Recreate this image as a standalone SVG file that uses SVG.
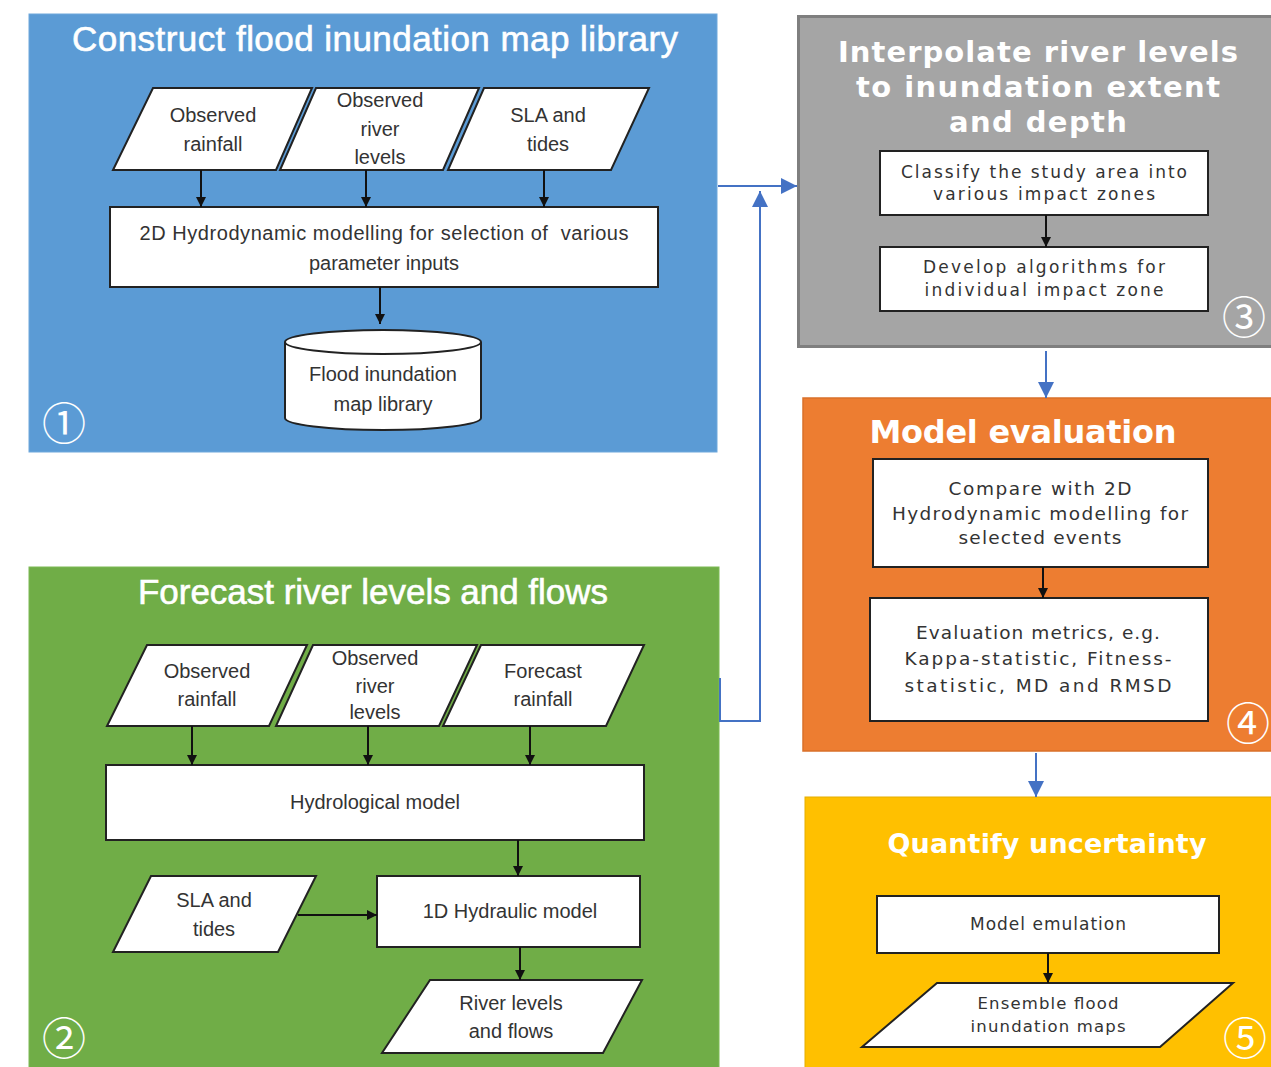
<svg xmlns="http://www.w3.org/2000/svg" width="1271" height="1067" viewBox="0 0 1271 1067">
<style>
.node{fill:#fff;stroke:#222;stroke-width:2}
.c{fill:none;stroke:#111;stroke-width:2}
.cb{fill:none;stroke:#4472C4;stroke-width:2}
.t{font-family:"Liberation Sans",Arial,sans-serif;font-size:20px;fill:#333;text-anchor:middle}
.v{font-family:"DejaVu Sans",Verdana,sans-serif;fill:#333;text-anchor:middle}
.h1{font-family:"Liberation Sans",Arial,sans-serif;font-size:35px;fill:#fff;stroke:#fff;stroke-width:0.6;text-anchor:middle}
.h2{font-family:"DejaVu Sans",Verdana,sans-serif;font-weight:bold;fill:#fff;text-anchor:middle}
.num{font-family:"Noto Sans CJK JP","DejaVu Sans",sans-serif;font-size:44px;fill:#fff;text-anchor:middle}
</style>
<defs>
<marker id="ab" viewBox="0 0 10 10" refX="10" refY="5" markerWidth="10" markerHeight="10" orient="auto" markerUnits="userSpaceOnUse"><path d="M0,0L10,5L0,10z" fill="#111"/></marker>
<marker id="abl" viewBox="0 0 10 10" refX="10" refY="5" markerWidth="16" markerHeight="16" orient="auto" markerUnits="userSpaceOnUse"><path d="M0,0L10,5L0,10z" fill="#4472C4"/></marker>
</defs>
<rect width="1271" height="1067" fill="#fff"/>

<!-- Panel 1 -->
<g id="panel1">
<rect x="29" y="14" width="688" height="438" fill="#5B9BD5" stroke="#6FA8DC" stroke-width="1"/>
<text class="h1" x="375" y="51" textLength="606">Construct flood inundation map library</text>
<text class="num" x="64" y="440">①</text>
</g>
<g id="p1_obs_rain">
<polygon class="node" points="153,88 312,88 276,170 113,170"/>
<text class="t" x="213" y="122">Observed</text>
<text class="t" x="213" y="151">rainfall</text>
</g>
<g id="p1_obs_river">
<polygon class="node" points="316,88 479,88 443,170 280,170"/>
<text class="t" x="380" y="107">Observed</text>
<text class="t" x="380" y="136">river</text>
<text class="t" x="380" y="164">levels</text>
</g>
<g id="p1_sla">
<polygon class="node" points="484,88 649,88 611,170 448,170"/>
<text class="t" x="548" y="122">SLA and</text>
<text class="t" x="548" y="151">tides</text>
</g>
<g id="p1_2d">
<rect class="node" x="110" y="207" width="548" height="80"/>
<text class="t" x="384" y="240" textLength="489" xml:space="preserve">2D Hydrodynamic modelling for selection of  various</text>
<text class="t" x="384" y="270">parameter inputs</text>
</g>
<g id="p1_library">
<path class="node" d="M285,342 L285,418 A98,12 0 0 0 481,418 L481,342 A98,12 0 0 0 285,342 Z"/>
<path class="node" d="M285,342 A98,12 0 0 0 481,342" fill="none"/>
<text class="t" x="383" y="381">Flood inundation</text>
<text class="t" x="383" y="411">map library</text>
</g>

<!-- Panel 2 -->
<g id="panel2">
<rect x="29" y="567" width="690" height="510" fill="#70AD47" stroke="#7DBA55" stroke-width="1"/>
<text class="h1" x="373" y="604" textLength="470">Forecast river levels and flows</text>
<text class="num" x="64" y="1055">②</text>
</g>
<g id="p2_obs_rain">
<polygon class="node" points="147,645 307,645 269,726 107,726"/>
<text class="t" x="207" y="678">Observed</text>
<text class="t" x="207" y="706">rainfall</text>
</g>
<g id="p2_obs_river">
<polygon class="node" points="313,645 477,645 439,726 276,726"/>
<text class="t" x="375" y="665">Observed</text>
<text class="t" x="375" y="693">river</text>
<text class="t" x="375" y="719">levels</text>
</g>
<g id="p2_fc_rain">
<polygon class="node" points="481,645 644,645 606,726 443,726"/>
<text class="t" x="543" y="678">Forecast</text>
<text class="t" x="543" y="706">rainfall</text>
</g>
<g id="p2_hydro">
<rect class="node" x="106" y="765" width="538" height="75"/>
<text class="t" x="375" y="809">Hydrological model</text>
</g>
<g id="p2_sla">
<polygon class="node" points="151,876 316,876 278,952 113,952"/>
<text class="t" x="214" y="907">SLA and</text>
<text class="t" x="214" y="936">tides</text>
</g>
<g id="p2_1d">
<rect class="node" x="377" y="876" width="263" height="71"/>
<text class="t" x="510" y="918">1D Hydraulic model</text>
</g>
<g id="p2_out">
<polygon class="node" points="430,980 642,980 603,1053 382,1053"/>
<text class="t" x="511" y="1010">River levels</text>
<text class="t" x="511" y="1038">and flows</text>
</g>

<!-- Panel 3 -->
<g id="panel3">
<rect x="798.5" y="16.5" width="480" height="330" fill="#A5A5A5" stroke="#7F7F7F" stroke-width="3"/>
<text class="h2" x="1038" y="62" font-size="29" textLength="400">Interpolate river levels</text>
<text class="h2" x="1038" y="97" font-size="29" textLength="364">to inundation extent</text>
<text class="h2" x="1038" y="132" font-size="29" textLength="178">and depth</text>
<text class="num" x="1244" y="334">③</text>
</g>
<g id="p3_classify">
<rect class="node" x="880" y="151" width="328" height="64"/>
<text class="v" x="1044" y="178" font-size="17" textLength="286">Classify the study area into</text>
<text class="v" x="1044" y="200" font-size="17" textLength="222">various impact zones</text>
</g>
<g id="p3_develop">
<rect class="node" x="880" y="247" width="328" height="64"/>
<text class="v" x="1044" y="273" font-size="17" textLength="242">Develop algorithms for</text>
<text class="v" x="1044" y="296" font-size="17" textLength="239">individual impact zone</text>
</g>

<!-- Panel 4 -->
<g id="panel4">
<rect x="803" y="398" width="475" height="353" fill="#ED7D31" stroke="#D9702A" stroke-width="1.5"/>
<text class="h2" x="1023" y="443" font-size="32" textLength="307">Model evaluation</text>
<text class="num" x="1248" y="740">④</text>
</g>
<g id="p4_compare">
<rect class="node" x="873" y="459" width="335" height="108"/>
<text class="v" x="1040" y="495" font-size="18.5" textLength="183">Compare with 2D</text>
<text class="v" x="1040" y="520" font-size="18.5" textLength="296">Hydrodynamic modelling for</text>
<text class="v" x="1040" y="544" font-size="18.5" textLength="163">selected events</text>
</g>
<g id="p4_metrics">
<rect class="node" x="870" y="598" width="338" height="123"/>
<text class="v" x="1038" y="639" font-size="18.5" textLength="244">Evaluation metrics, e.g.</text>
<text class="v" x="1038" y="665" font-size="18.5" textLength="267">Kappa-statistic, Fitness-</text>
<text class="v" x="1038" y="692" font-size="18.5" textLength="267">statistic, MD and RMSD</text>
</g>

<!-- Panel 5 -->
<g id="panel5">
<rect x="805" y="797" width="475" height="280" fill="#FFC000" stroke="#E6AD00" stroke-width="1"/>
<text class="h2" x="1047" y="853" font-size="27" textLength="319">Quantify uncertainty</text>
<text class="num" x="1245" y="1055">⑤</text>
</g>
<g id="p5_emul">
<rect class="node" x="877" y="896" width="342" height="57"/>
<text class="v" x="1048" y="930" font-size="17" textLength="156">Model emulation</text>
</g>
<g id="p5_maps">
<polygon class="node" points="937,983 1233,983 1160,1047 862,1047"/>
<text class="v" x="1048" y="1009" font-size="16.5" textLength="141">Ensemble flood</text>
<text class="v" x="1048" y="1032" font-size="16.5" textLength="155">inundation maps</text>
</g>

<!-- Connectors -->
<g id="connectors">
<line class="c" x1="201" y1="170" x2="201" y2="207" marker-end="url(#ab)"/>
<line class="c" x1="366" y1="170" x2="366" y2="207" marker-end="url(#ab)"/>
<line class="c" x1="544" y1="170" x2="544" y2="207" marker-end="url(#ab)"/>
<line class="c" x1="380" y1="287" x2="380" y2="324" marker-end="url(#ab)"/>
<line class="c" x1="192" y1="726" x2="192" y2="765" marker-end="url(#ab)"/>
<line class="c" x1="368" y1="726" x2="368" y2="765" marker-end="url(#ab)"/>
<line class="c" x1="530" y1="726" x2="530" y2="765" marker-end="url(#ab)"/>
<line class="c" x1="518" y1="840" x2="518" y2="876" marker-end="url(#ab)"/>
<line class="c" x1="298" y1="915" x2="377" y2="915" marker-end="url(#ab)"/>
<line class="c" x1="520" y1="947" x2="520" y2="980" marker-end="url(#ab)"/>
<line class="c" x1="1046" y1="215" x2="1046" y2="247" marker-end="url(#ab)"/>
<line class="c" x1="1043" y1="567" x2="1043" y2="598" marker-end="url(#ab)"/>
<line class="c" x1="1048" y1="953" x2="1048" y2="983" marker-end="url(#ab)"/>
<line class="cb" x1="718" y1="186" x2="797" y2="186" marker-end="url(#abl)"/>
<polyline class="cb" points="720,678 720,721 760,721 760,191" marker-end="url(#abl)"/>
<line class="cb" x1="1046" y1="351" x2="1046" y2="398" marker-end="url(#abl)"/>
<line class="cb" x1="1036" y1="753" x2="1036" y2="797" marker-end="url(#abl)"/>
</g>
</svg>
